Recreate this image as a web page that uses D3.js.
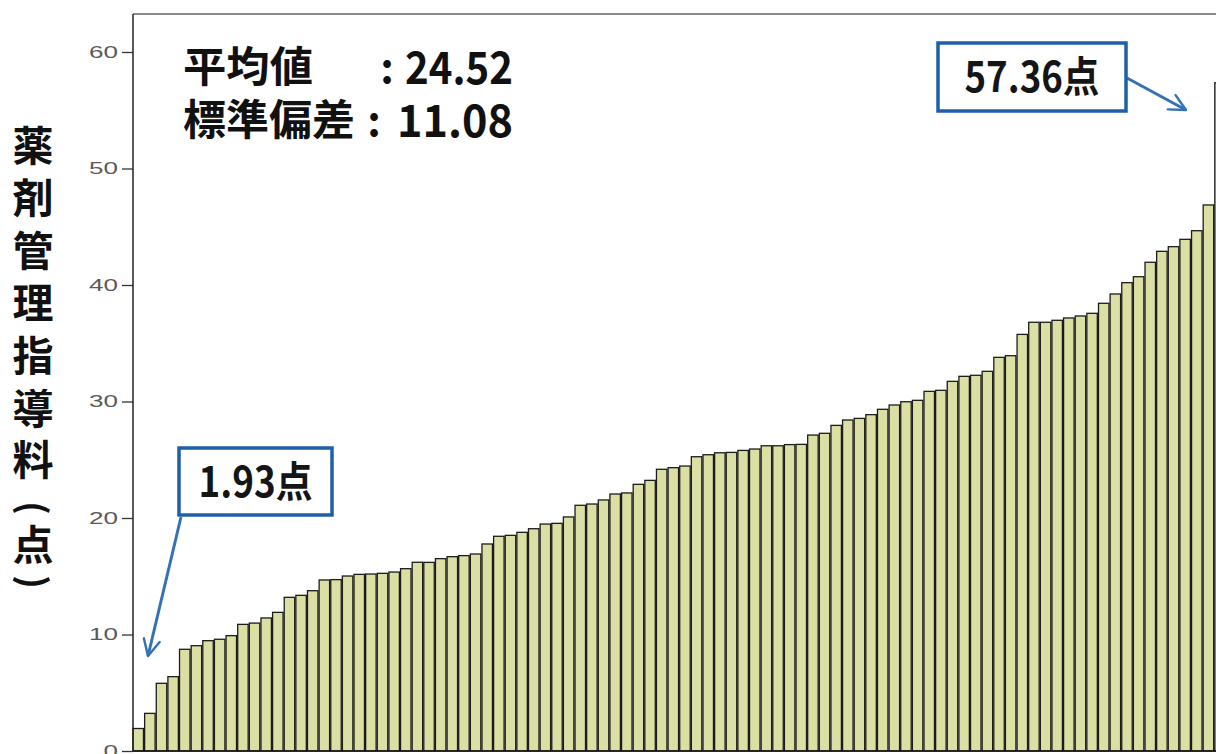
<!DOCTYPE html>
<html>
<head>
<meta charset="utf-8">
<script src="https://cdn.jsdelivr.net/npm/d3@7"></script>
<style>
  html, body { margin: 0; padding: 0; background: #fff; overflow: hidden; }
  svg { display: block; }
</style>
</head>
<body>
<div id="bar-chart"></div>
<script>
// values, sorted ascending (one bar per facility)
var scores = [
  1.93, 3.23, 5.81, 6.38, 8.73, 9.04, 9.47, 9.59, 9.90, 10.87,
  10.98, 11.42, 11.90, 13.19, 13.36, 13.76, 14.68, 14.71, 15.02, 15.16,
  15.19, 15.25, 15.36, 15.65, 16.20, 16.19, 16.51, 16.68, 16.77, 16.91,
  17.77, 18.43, 18.51, 18.77, 19.08, 19.48, 19.54, 20.09, 21.09, 21.20,
  21.55, 22.06, 22.15, 22.89, 23.23, 24.18, 24.32, 24.46, 25.26, 25.43,
  25.60, 25.63, 25.80, 25.92, 26.20, 26.20, 26.30, 26.32, 27.12, 27.27,
  27.95, 28.41, 28.55, 28.87, 29.33, 29.70, 29.98, 30.10, 30.87, 30.96,
  31.73, 32.16, 32.25, 32.59, 33.79, 33.93, 35.76, 36.80, 36.80, 36.97,
  37.17, 37.34, 37.57, 38.43, 39.23, 40.20, 40.71, 41.95, 42.89, 43.29,
  43.92, 44.66, 46.87, 57.36
];
var yTicks = [0, 10, 20, 30, 40, 50, 60];
var yTitle = ["薬", "剤", "管", "理", "指", "導", "料", "(", "点", ")"];
var statLabels = ["平均値", "標準偏差"];
var statValues = ["24.52", "11.08"];
var minLabel = "1.93点";
var maxLabel = "57.36点";

var width = 1216, height = 754;
var plotLeft = 133, plotTop = 14, plotBottom = 751;

var svg = d3.select("#bar-chart").append("svg")
    .attr("width", width)
    .attr("height", height);

var x = d3.scaleBand()
    .domain(scores.map(function(d, i) { return i; }))
    .range([plotLeft, plotLeft + scores.length * 11.62])
    .paddingInner(0.1)
    .paddingOuter(0);

var y = d3.scaleLinear()
    .domain([0, 60])
    .range([plotBottom, 52]);

// bars
svg.selectAll(".bar")
    .data(scores)
    .enter().append("rect")
    .attr("class", "bar")
    .attr("x", function(d, i) { return x(i); })
    .attr("width", x.bandwidth())
    .attr("y", function(d) { return y(d); })
    .attr("height", function(d) { return plotBottom - y(d); })
    .attr("fill", "#dcdfa3")
    .attr("stroke", "#1c1c1c")
    .attr("stroke-width", 1.3);

// frame: top line and baseline
svg.append("line")
    .attr("x1", plotLeft).attr("x2", width)
    .attr("y1", plotTop).attr("y2", plotTop)
    .attr("stroke", "#8a8a8a").attr("stroke-width", 2);
svg.append("line")
    .attr("x1", plotLeft).attr("x2", width)
    .attr("y1", plotBottom).attr("y2", plotBottom)
    .attr("stroke", "#111").attr("stroke-width", 1.5);

// y axis
var yAxis = svg.append("g")
    .attr("transform", "translate(" + plotLeft + ",0)")
    .call(d3.axisLeft(y).tickValues(yTicks).tickSize(11).tickPadding(4));
yAxis.select(".domain").remove();
yAxis.selectAll(".tick line").attr("stroke", "#333").attr("stroke-width", 1.3);
yAxis.selectAll(".tick text")
    .attr("fill", "#5a5a5a")
    .style("font-family", "'Liberation Sans', Arial, sans-serif")
    .style("font-size", "17px")
    .attr("textLength", function(d) { return String(d).length * 14.5; })
    .attr("lengthAdjust", "spacingAndGlyphs");
svg.append("line")
    .attr("x1", plotLeft).attr("x2", plotLeft)
    .attr("y1", plotTop).attr("y2", plotBottom)
    .attr("stroke", "#222").attr("stroke-width", 1.5);

// vertical axis title, one glyph per slot; brackets turned a quarter
var titlePos = [146, 198, 251, 303, 356, 409, 460, 508, 545, 582];
function isBracket(d) { return d === "(" || d === ")"; }
var titleG = svg.append("g").selectAll("g")
    .data(yTitle)
    .enter().append("g")
    .attr("transform", function(d, i) {
      return "translate(33," + titlePos[i] + ")" + (isBracket(d) ? " rotate(90)" : "");
    });
titleG.append("text")
    .attr("x", 0).attr("y", 0)
    .attr("dy", "0.36em")
    .attr("text-anchor", "middle")
    .style("font-family", "'Noto Sans CJK JP', sans-serif")
    .style("font-weight", "bold")
    .style("font-size", function(d) { return isBracket(d) ? "36px" : "41px"; })
    .attr("fill", "#111")
    .text(function(d) { return d; });

// stats text
var cjk = "'Noto Sans CJK JP', sans-serif";
var statG = svg.append("g").attr("fill", "#111")
    .style("font-family", cjk).style("font-weight", "bold");
var labelW = [130, 172], colonX = [387, 374], valueW = [108, 116], rowY = [82, 135];
statLabels.forEach(function(s, i) {
  statG.append("text").attr("x", 183).attr("y", rowY[i])
    .style("font-size", "42px")
    .attr("textLength", labelW[i]).attr("lengthAdjust", "spacingAndGlyphs")
    .text(s);
  statG.append("text").attr("x", colonX[i]).attr("y", rowY[i] + 1)
    .attr("text-anchor", "middle")
    .style("font-size", "42px")
    .text(":");
  statG.append("text").attr("x", 513).attr("y", rowY[i] + 2)
    .attr("text-anchor", "end")
    .style("font-size", "45px")
    .attr("textLength", valueW[i]).attr("lengthAdjust", "spacingAndGlyphs")
    .text(statValues[i]);
});

// arrow marker
var defs = svg.append("defs");
defs.append("marker")
    .attr("id", "arrow")
    .attr("viewBox", "0 0 12 12")
    .attr("refX", 11).attr("refY", 6)
    .attr("markerWidth", 6.5).attr("markerHeight", 6.5)
    .attr("markerUnits", "strokeWidth")
    .attr("orient", "auto")
    .append("path")
    .attr("d", "M1,1 L11,6 L1,11")
    .attr("fill", "none")
    .attr("stroke", "#3572b5")
    .attr("stroke-width", 1.5)
    .attr("stroke-linecap", "round")
    .attr("stroke-linejoin", "round");

function callout(box, text, textW, from, to) {
  svg.append("line")
      .attr("x1", from[0]).attr("y1", from[1])
      .attr("x2", to[0]).attr("y2", to[1])
      .attr("stroke", "#3572b5").attr("stroke-width", 3)
      .attr("marker-end", "url(#arrow)");
  svg.append("rect")
      .attr("x", box[0]).attr("y", box[1])
      .attr("width", box[2]).attr("height", box[3])
      .attr("fill", "#fff")
      .attr("stroke", "#1f5fa8").attr("stroke-width", 3.5);
  svg.append("text")
      .attr("x", box[0] + box[2] / 2)
      .attr("y", box[1] + box[3] / 2 + 15)
      .attr("text-anchor", "middle")
      .style("font-family", cjk).style("font-weight", "bold")
      .style("font-size", "42px")
      .attr("fill", "#151515")
      .attr("textLength", textW).attr("lengthAdjust", "spacingAndGlyphs")
      .text(text);
}

callout([179, 448, 153, 67], minLabel, 114, [181, 517], [148, 656]);
callout([938, 43, 188, 68], maxLabel, 135, [1127, 78], [1186, 110]);
</script>
</body>
</html>
